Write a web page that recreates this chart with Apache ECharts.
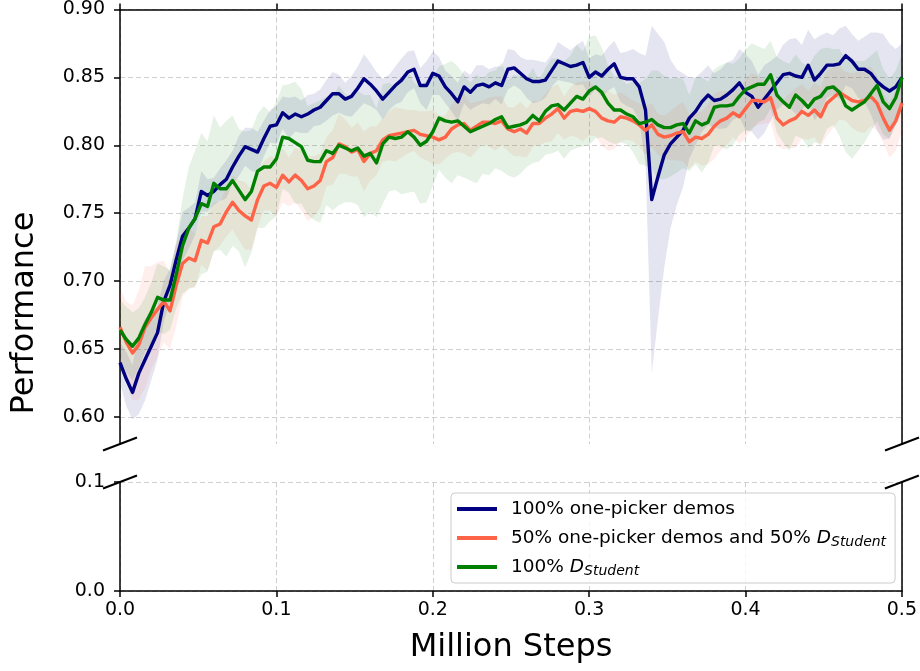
<!DOCTYPE html>
<html>
<head>
<meta charset="utf-8">
<script src="https://cdn.jsdelivr.net/npm/echarts@6/dist/echarts.min.js"></script>
<style>
  html, body { margin: 0; padding: 0; background: #ffffff; }
  #chart { width: 920px; height: 671px; }
</style>
</head>
<body>
<div id="chart"></div>
<script>
// Evaluation performance over training (million steps), mean and std over seeds.
const seriesNames = [
  '100% one-picker demos',
  '50% one-picker demos and 50% D_Student',
  '100% D_Student'
];

const blueMean = [
  0.640, 0.628, 0.618, 0.632, 0.642, 0.652, 0.662, 0.685, 0.697, 0.716,
  0.733, 0.739, 0.746, 0.766, 0.763, 0.766, 0.771, 0.775, 0.784, 0.792,
  0.799, 0.797, 0.795, 0.805, 0.814, 0.815, 0.824, 0.820, 0.823, 0.821,
  0.823, 0.826, 0.828, 0.833, 0.838, 0.838, 0.834, 0.836, 0.842, 0.849,
  0.845, 0.840, 0.834, 0.839, 0.844, 0.848, 0.854, 0.856, 0.844, 0.844,
  0.853, 0.851, 0.843, 0.838, 0.832, 0.843, 0.839, 0.844, 0.845, 0.843,
  0.846, 0.844, 0.856, 0.857, 0.853, 0.849, 0.847, 0.847, 0.848, 0.855,
  0.862, 0.860, 0.858, 0.859, 0.861, 0.850, 0.854, 0.851, 0.856, 0.860,
  0.850, 0.849, 0.849, 0.843, 0.826, 0.760, 0.777, 0.793, 0.801, 0.806,
  0.811, 0.820, 0.825, 0.832, 0.837, 0.833, 0.834, 0.837, 0.841, 0.846,
  0.839, 0.836, 0.828, 0.834, 0.840, 0.846, 0.852, 0.853, 0.851, 0.850,
  0.859, 0.848, 0.853, 0.859, 0.859, 0.860, 0.866, 0.862, 0.856, 0.856,
  0.853, 0.847, 0.843, 0.840, 0.843, 0.850
];
const blueStd = [
  0.015, 0.020, 0.020, 0.030, 0.030, 0.025, 0.020, 0.015, 0.012, 0.012,
  0.018, 0.015, 0.012, 0.015, 0.012, 0.010, 0.012, 0.014, 0.012, 0.015,
  0.014, 0.016, 0.015, 0.013, 0.012, 0.014, 0.012, 0.015, 0.013, 0.012,
  0.014, 0.012, 0.013, 0.015, 0.016, 0.014, 0.012, 0.015, 0.016, 0.018,
  0.016, 0.014, 0.015, 0.013, 0.014, 0.016, 0.015, 0.014, 0.013, 0.018,
  0.016, 0.014, 0.012, 0.013, 0.014, 0.012, 0.013, 0.015, 0.014, 0.013,
  0.012, 0.014, 0.015, 0.013, 0.012, 0.014, 0.016, 0.015, 0.013, 0.012,
  0.014, 0.013, 0.012, 0.015, 0.016, 0.014, 0.013, 0.015, 0.016, 0.017,
  0.018, 0.020, 0.022, 0.025, 0.040, 0.128, 0.105, 0.083, 0.062, 0.050,
  0.042, 0.030, 0.025, 0.022, 0.022, 0.020, 0.022, 0.024, 0.022, 0.025,
  0.028, 0.026, 0.024, 0.025, 0.022, 0.020, 0.022, 0.025, 0.028, 0.024,
  0.026, 0.030, 0.028, 0.024, 0.022, 0.026, 0.022, 0.020, 0.021, 0.024,
  0.030, 0.036, 0.039, 0.035, 0.028, 0.025
];

const orangeMean = [
  0.666, 0.655, 0.647, 0.653, 0.666, 0.673, 0.679, 0.685, 0.678, 0.697,
  0.713, 0.717, 0.715, 0.730, 0.728, 0.740, 0.742, 0.751, 0.758, 0.752,
  0.748, 0.745, 0.760, 0.770, 0.772, 0.769, 0.778, 0.773, 0.778, 0.774,
  0.768, 0.770, 0.774, 0.788, 0.791, 0.801, 0.799, 0.795, 0.797, 0.788,
  0.794, 0.796, 0.804, 0.807, 0.808, 0.809, 0.810, 0.811, 0.808, 0.807,
  0.806, 0.804, 0.806, 0.812, 0.815, 0.816, 0.811, 0.814, 0.817, 0.817,
  0.816, 0.818, 0.812, 0.810, 0.812, 0.809, 0.816, 0.816, 0.820, 0.823,
  0.827, 0.820, 0.825, 0.826, 0.825, 0.827, 0.825, 0.820, 0.818, 0.817,
  0.821, 0.820, 0.818, 0.815, 0.811, 0.815, 0.808, 0.806, 0.807, 0.809,
  0.810, 0.8025, 0.806, 0.805, 0.808, 0.814, 0.818, 0.820, 0.824, 0.821,
  0.827, 0.833, 0.833, 0.832, 0.835, 0.820, 0.815, 0.818, 0.820, 0.825,
  0.822, 0.826, 0.821, 0.831, 0.835, 0.839, 0.836, 0.833, 0.832, 0.833,
  0.836, 0.831, 0.820, 0.811, 0.818, 0.831
];
const orangeStd = [
  0.028, 0.030, 0.035, 0.040, 0.045, 0.038, 0.035, 0.030, 0.028, 0.030,
  0.025, 0.022, 0.020, 0.018, 0.020, 0.018, 0.016, 0.018, 0.020, 0.022,
  0.025, 0.022, 0.020, 0.018, 0.020, 0.022, 0.020, 0.018, 0.020, 0.022,
  0.024, 0.022, 0.020, 0.018, 0.020, 0.022, 0.020, 0.018, 0.020, 0.022,
  0.020, 0.018, 0.016, 0.018, 0.020, 0.018, 0.016, 0.015, 0.017, 0.018,
  0.020, 0.018, 0.016, 0.018, 0.020, 0.022, 0.020, 0.018, 0.016, 0.018,
  0.020, 0.018, 0.016, 0.018, 0.020, 0.018, 0.017, 0.016, 0.018, 0.020,
  0.018, 0.016, 0.018, 0.020, 0.022, 0.020, 0.018, 0.020, 0.022, 0.020,
  0.018, 0.016, 0.015, 0.016, 0.018, 0.016, 0.015, 0.016, 0.018, 0.020,
  0.022, 0.020, 0.018, 0.020, 0.022, 0.024, 0.022, 0.020, 0.018, 0.020,
  0.022, 0.020, 0.018, 0.016, 0.018, 0.020, 0.018, 0.020, 0.022, 0.020,
  0.018, 0.020, 0.022, 0.024, 0.022, 0.020, 0.018, 0.020, 0.022, 0.024,
  0.022, 0.020, 0.018, 0.020, 0.022, 0.020
];

const greenMean = [
  0.664, 0.657, 0.652, 0.658, 0.668, 0.677, 0.688, 0.686, 0.686, 0.705,
  0.726, 0.739, 0.746, 0.757, 0.755, 0.772, 0.768, 0.768, 0.774, 0.767,
  0.760, 0.766, 0.781, 0.784, 0.784, 0.790, 0.806, 0.805, 0.802, 0.799,
  0.789, 0.788, 0.788, 0.796, 0.794, 0.800, 0.798, 0.796, 0.798, 0.792,
  0.794, 0.787, 0.801, 0.806, 0.805, 0.806, 0.810, 0.806, 0.800, 0.803,
  0.810, 0.820, 0.818, 0.817, 0.818, 0.814, 0.810, 0.812, 0.814, 0.816,
  0.819, 0.821, 0.813, 0.814, 0.815, 0.817, 0.822, 0.818, 0.825, 0.829,
  0.830, 0.826, 0.831, 0.836, 0.834, 0.840, 0.843, 0.839, 0.831, 0.826,
  0.826, 0.823, 0.821, 0.816, 0.817, 0.819, 0.815, 0.813, 0.813, 0.815,
  0.816, 0.809, 0.818, 0.815, 0.817, 0.828, 0.829, 0.829, 0.830, 0.836,
  0.841, 0.843, 0.845, 0.845, 0.852, 0.837, 0.832, 0.828, 0.837, 0.833,
  0.828, 0.834, 0.836, 0.842, 0.843, 0.839, 0.829, 0.826, 0.829, 0.832,
  0.838, 0.844, 0.832, 0.827, 0.835, 0.850
];
const greenStd = [
  0.022, 0.024, 0.025, 0.022, 0.020, 0.022, 0.025, 0.025, 0.022, 0.025,
  0.035, 0.045, 0.050, 0.052, 0.048, 0.050, 0.045, 0.050, 0.048, 0.045,
  0.050, 0.045, 0.042, 0.045, 0.040, 0.042, 0.038, 0.040, 0.045, 0.042,
  0.040, 0.043, 0.045, 0.040, 0.042, 0.044, 0.040, 0.038, 0.042, 0.045,
  0.043, 0.040, 0.044, 0.040, 0.038, 0.042, 0.045, 0.040, 0.043, 0.045,
  0.040, 0.038, 0.042, 0.045, 0.040, 0.038, 0.036, 0.040, 0.035, 0.038,
  0.036, 0.040, 0.035, 0.038, 0.036, 0.033, 0.035, 0.030, 0.032, 0.035,
  0.034, 0.036, 0.035, 0.038, 0.035, 0.040, 0.038, 0.033, 0.028, 0.025,
  0.024, 0.022, 0.026, 0.030, 0.032, 0.036, 0.040, 0.038, 0.036, 0.035,
  0.033, 0.028, 0.032, 0.035, 0.030, 0.028, 0.030, 0.032, 0.030, 0.028,
  0.030, 0.032, 0.028, 0.026, 0.025, 0.028, 0.030, 0.032, 0.030, 0.028,
  0.030, 0.032, 0.035, 0.030, 0.028, 0.032, 0.034, 0.036, 0.033, 0.030,
  0.028, 0.026, 0.024, 0.022, 0.020, 0.018
];

// Checkpoints are logged every 4000 steps (0.004 M).
const STEP_M = 0.004;
const steps = blueMean.map((_, i) => Math.round(i * STEP_M * 1000) / 1000);

const xTicks = [0.0, 0.1, 0.2, 0.3, 0.4, 0.5];
const yTicksTop = [0.60, 0.65, 0.70, 0.75, 0.80, 0.85, 0.90];
const yTicksBottom = [0.0, 0.1];

const FONT = 'DejaVu Sans';
const colors = ['#000080', '#ff6347', '#008000'];
const bandColors = ['rgba(0,0,128,0.10)', 'rgba(255,99,71,0.10)', 'rgba(0,128,0,0.10)'];

const legendText = {};
legendText[seriesNames[0]] = '100% one-picker demos';
legendText[seriesNames[1]] = '50% one-picker demos and 50% {d|D}{s|Student}';
legendText[seriesNames[2]] = '100% {d|D}{s|Student}';

function bandSeries(mean, std, color) {
  return {
    type: 'custom',
    xAxisIndex: 0,
    yAxisIndex: 0,
    silent: true,
    z: 1,
    clip: true,
    data: mean.map((m, i) => [steps[i], m - std[i], m + std[i]]),
    encode: { x: 0, y: [1, 2] },
    renderItem: function (params, api) {
      if (params.dataIndex !== 0) return null;
      const pts = [];
      for (let i = 0; i < mean.length; i++) pts.push(api.coord([steps[i], mean[i] + std[i]]));
      for (let i = mean.length - 1; i >= 0; i--) pts.push(api.coord([steps[i], mean[i] - std[i]]));
      return { type: 'polygon', shape: { points: pts }, style: { fill: color } };
    }
  };
}

function lineSeries(name, mean, color, z) {
  return {
    type: 'line',
    name: name,
    xAxisIndex: 0,
    yAxisIndex: 0,
    data: mean.map((m, i) => [steps[i], m]),
    symbol: 'none',
    z: z,
    lineStyle: { color: color, width: 3.4, join: 'round' },
    itemStyle: { color: color }
  };
}

const axisLineStyle = { color: '#000', width: 1.5 };
const gridDash = { color: '#cfcfcf', width: 1, type: [5, 3] };
const tickLabel = { color: '#000', fontSize: 19, fontFamily: FONT };

const chart = echarts.init(document.getElementById('chart'), null, { renderer: 'canvas' });

const option = {
  animation: false,
  backgroundColor: '#ffffff',
  grid: [
    { left: 120, top: 9, width: 782, height: 435 },
    { left: 120, top: 482, width: 782, height: 109 }
  ],
  xAxis: [
    {
      gridIndex: 0, type: 'value', min: xTicks[0], max: xTicks[xTicks.length - 1], interval: 0.1,
      position: 'top',
      axisLine: { show: true, onZero: false, lineStyle: axisLineStyle },
      axisTick: { show: true, length: 6, lineStyle: axisLineStyle },
      axisLabel: { show: false },
      splitLine: { show: true, lineStyle: gridDash }
    },
    {
      gridIndex: 1, type: 'value', min: xTicks[0], max: xTicks[xTicks.length - 1], interval: 0.1,
      position: 'bottom',
      axisLine: { show: true, onZero: false, lineStyle: axisLineStyle },
      axisTick: { show: true, length: 6, lineStyle: axisLineStyle },
      axisLabel: Object.assign({ margin: 10, formatter: v => v.toFixed(1) }, tickLabel),
      splitLine: { show: true, lineStyle: gridDash }
    }
  ],
  yAxis: [
    {
      gridIndex: 0, type: 'value', min: 0.58, max: 0.90, position: 'left',
      axisLine: { show: true, onZero: false, lineStyle: axisLineStyle },
      axisTick: { show: true, length: 6, lineStyle: axisLineStyle, customValues: yTicksTop },
      axisLabel: Object.assign({ margin: 15, customValues: yTicksTop, formatter: v => v.toFixed(2) }, tickLabel),
      splitLine: { show: true, lineStyle: gridDash }
    },
    {
      gridIndex: 1, type: 'value', min: yTicksBottom[0], max: yTicksBottom[1], interval: 0.1, position: 'left',
      axisLine: { show: true, onZero: false, lineStyle: axisLineStyle },
      axisTick: { show: true, length: 6, lineStyle: axisLineStyle },
      axisLabel: Object.assign({ margin: 15, formatter: v => v.toFixed(1) }, tickLabel),
      splitLine: { show: true, lineStyle: gridDash }
    },
    {
      gridIndex: 0, type: 'value', min: 0.58, max: 0.90, position: 'right',
      axisLine: { show: true, onZero: false, lineStyle: axisLineStyle },
      axisTick: { show: false }, axisLabel: { show: false }, splitLine: { show: false }
    },
    {
      gridIndex: 1, type: 'value', min: 0, max: 0.1, position: 'right',
      axisLine: { show: true, onZero: false, lineStyle: axisLineStyle },
      axisTick: { show: false }, axisLabel: { show: false }, splitLine: { show: false }
    }
  ],
  legend: {
    data: seriesNames,
    orient: 'vertical',
    left: 451,
    top: 493,
    icon: 'rect',
    itemWidth: 40,
    itemHeight: 4,
    itemGap: 7,
    padding: [5, 9, 5, 6],
    backgroundColor: 'rgba(255,255,255,0.8)',
    borderColor: '#cccccc',
    borderWidth: 1,
    borderRadius: 4,
    formatter: name => legendText[name],
    textStyle: {
      color: '#000', fontSize: 18.5, fontFamily: FONT, lineHeight: 22, padding: [0, 0, 0, 9],
      rich: {
        d: { color: '#000', fontSize: 18.5, fontFamily: FONT, fontStyle: 'italic', lineHeight: 22 },
        s: { color: '#000', fontSize: 14, fontFamily: FONT, fontStyle: 'italic', lineHeight: 8, verticalAlign: 'bottom' }
      }
    }
  },
  series: [
    bandSeries(blueMean, blueStd, bandColors[0]),
    bandSeries(orangeMean, orangeStd, bandColors[1]),
    bandSeries(greenMean, greenStd, bandColors[2]),
    lineSeries(seriesNames[0], blueMean, colors[0], 3),
    lineSeries(seriesNames[1], orangeMean, colors[1], 4),
    lineSeries(seriesNames[2], greenMean, colors[2], 5)
  ]
};

chart.setOption(option);

// Axis titles and the diagonal marks of the broken y axis.
const topLeft = chart.convertToPixel({ gridIndex: 0 }, [0, 0.58]);
const topRight = chart.convertToPixel({ gridIndex: 0 }, [0.5, 0.58]);
const botLeft = chart.convertToPixel({ gridIndex: 1 }, [0, 0.1]);
const botRight = chart.convertToPixel({ gridIndex: 1 }, [0.5, 0.1]);

function breakMark(p) {
  return {
    type: 'line', z: 100, silent: true,
    shape: { x1: p[0] - 17, y1: p[1] + 6.5, x2: p[0] + 17, y2: p[1] - 6.5 },
    style: { stroke: '#000', lineWidth: 2 }
  };
}

chart.setOption({
  graphic: {
    elements: [
      breakMark(topLeft), breakMark(topRight), breakMark(botLeft), breakMark(botRight),
      {
        type: 'text', x: (topLeft[0] + topRight[0]) / 2, y: 648, silent: true,
        style: { text: 'Million Steps', fill: '#000', font: '32px "DejaVu Sans"', textAlign: 'center', textVerticalAlign: 'middle' }
      },
      {
        type: 'text', x: 25, y: 313, rotation: Math.PI / 2, silent: true,
        style: { text: 'Performance', fill: '#000', font: '32px "DejaVu Sans"', textAlign: 'center', textVerticalAlign: 'middle' }
      }
    ]
  }
});
</script>
</body>
</html>
